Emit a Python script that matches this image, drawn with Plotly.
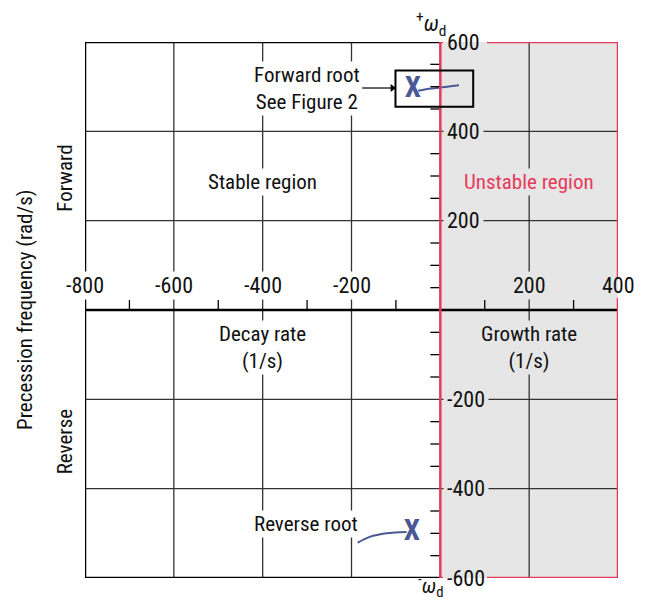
import plotly.graph_objects as go

# ---- data ----
x_tick_labels = [-800, -600, -400, -200, 200, 400]
x_grid = [-600, -400, -200, 200]
x_minor = [-700, -500, -300, -100, 100, 300]
y_tick_labels = [600, 400, 200, -200, -400, -600]
y_grid = [-400, -200, 200, 400]
y_minor = [-550, -500, -450, -350, -300, -250, -150, -100, -50,
           50, 100, 150, 250, 300, 350, 450, 500, 550]

fwd_root_x = [-62]
fwd_root_y = [493]
rev_root_x = [-64]
rev_root_y = [-499]
fwd_curve_x = [-50, -20, 10, 42]
fwd_curve_y = [491, 496, 499, 503]
rev_curve_x = [-186, -159, -121, -76]
rev_curve_y = [-521, -508, -500, -497]

x_range = [-800, 400]
y_range = [-600, 600]

FONT = "Liberation Sans Narrow, Roboto Condensed, Arial Narrow, Roboto, sans-serif"
RED = "#e63a5c"
GRAY = "#e6e6e6"
BLUE = "#4a5996"
GRID = "#333333"
TS = 21  # text size
KS = 22  # tick label size

fig = go.Figure()

fig.add_trace(go.Scatter(x=fwd_curve_x, y=fwd_curve_y, mode="lines",
                         line=dict(color=BLUE, width=2, shape="spline"),
                         cliponaxis=False, hoverinfo="skip"))
fig.add_trace(go.Scatter(x=rev_curve_x, y=rev_curve_y, mode="lines",
                         line=dict(color=BLUE, width=2, shape="spline"),
                         cliponaxis=False, hoverinfo="skip"))
fig.add_trace(go.Scatter(x=fwd_root_x + rev_root_x, y=fwd_root_y + rev_root_y,
                         mode="text", text=["<b>X</b>", "<b>X</b>"],
                         textfont=dict(family=FONT, size=29, color=BLUE),
                         cliponaxis=False, hoverinfo="skip"))
# arrowhead pointing at the forward-root box
fig.add_trace(go.Scatter(x=[-108], y=[497], mode="markers",
                         marker=dict(symbol="triangle-right", size=7, color="black"),
                         cliponaxis=False, hoverinfo="skip"))

shapes = []
# unstable region fill
shapes.append(dict(type="rect", xref="x", yref="y", x0=0, x1=x_range[1],
                   y0=y_range[0], y1=y_range[1], fillcolor=GRAY,
                   line=dict(width=0), layer="below"))
# grid lines
for v in x_grid:
    shapes.append(dict(type="line", xref="x", yref="y", x0=v, x1=v, y0=y_range[0], y1=y_range[1],
                       line=dict(color=GRID, width=1.3), layer="below"))
for v in y_grid:
    shapes.append(dict(type="line", xref="x", yref="y", x0=x_range[0], x1=x_range[1], y0=v, y1=v,
                       line=dict(color=GRID, width=1.3), layer="below"))
# minor ticks: above the decay/growth axis, left of the frequency axis
for v in x_minor:
    shapes.append(dict(type="line", xref="x", yref="y", x0=v, x1=v,
                       ysizemode="pixel", yanchor=0, y0=0, y1=10,
                       line=dict(color="black", width=1.3)))
for v in y_minor:
    shapes.append(dict(type="line", xref="x", yref="y", y0=v, y1=v,
                       xsizemode="pixel", xanchor=0, x0=-10, x1=0,
                       line=dict(color="black", width=1.3)))
# decay/growth axis line
shapes.append(dict(type="line", xref="x", yref="y", x0=x_range[0], x1=x_range[1], y0=0, y1=0,
                   line=dict(color="black", width=2.5)))
# black borders of stable region
for (xa, ya, xb, yb) in [(x_range[0], y_range[1], 0, y_range[1]),
                         (x_range[0], y_range[0], 0, y_range[0]),
                         (x_range[0], y_range[0], x_range[0], y_range[1])]:
    shapes.append(dict(type="line", xref="x", yref="y", x0=xa, y0=ya, x1=xb, y1=yb,
                       line=dict(color="black", width=2.5)))
# red borders of unstable region (broken behind the 600 / -600 / 400 labels)
gap = (6, 105)
rgap = (27, 74)
for (xa, ya, xb, yb) in [(0, y_range[0], 0, y_range[1]),
                         (0, y_range[1], gap[0], y_range[1]),
                         (gap[1], y_range[1], x_range[1], y_range[1]),
                         (0, y_range[0], gap[0], y_range[0]),
                         (gap[1], y_range[0], x_range[1], y_range[0]),
                         (x_range[1], y_range[0], x_range[1], rgap[0]),
                         (x_range[1], rgap[1], x_range[1], y_range[1])]:
    shapes.append(dict(type="line", xref="x", yref="y", x0=xa, y0=ya, x1=xb, y1=yb,
                       line=dict(color=RED, width=2.5)))
# forward root box
shapes.append(dict(type="rect", xref="x", yref="y", x0=-101, x1=74, y0=455, y1=536,
                   line=dict(color="black", width=2)))
# arrow shaft
shapes.append(dict(type="line", xref="x", yref="y", x0=-176, x1=-110, y0=497, y1=497,
                   line=dict(color="black", width=1.2)))

ann = []
# x tick labels
for v in x_tick_labels:
    bg = "white" if v < 0 else (GRAY if v < x_range[1] else "rgba(0,0,0,0)")
    ann.append(dict(x=v, y=54, xref="x", yref="y", text=str(v), showarrow=False,
                    font=dict(family=FONT, size=KS, color="#111"),
                    bgcolor=bg, borderpad=1))
# y tick labels
for v in y_tick_labels:
    ann.append(dict(x=0, y=v, xref="x", yref="y", text=str(v), showarrow=False,
                    xanchor="left", xshift=3,
                    font=dict(family=FONT, size=KS, color="#111"),
                    bgcolor=(GRAY if abs(v) < 600 else "rgba(0,0,0,0)"), borderpad=3))

def txt(x, y, t, color="#111", bg="white", size=TS, **kw):
    d = dict(x=x, y=y, xref="x", yref="y", text=t, showarrow=False,
             font=dict(family=FONT, size=size, color=color), bgcolor=bg, borderpad=1)
    d.update(kw)
    ann.append(d)

txt(-301, 497, "Forward root<br>See Figure 2")
txt(-400, 286, "Stable region")
txt(200, 287, "Unstable region", color=RED, bg=GRAY)
txt(-400, -83, "Decay rate<br>(1/s)")
txt(200, -83, "Growth rate<br>(1/s)", bg=GRAY)
txt(-302, -479, "Reverse root")

# omega_d labels just outside the plot, top and bottom
ann.append(dict(x=-22, y=1, xref="x", yref="paper", yshift=36,
                text="<sup>+</sup><i>ω</i><sub>d</sub>",
                showarrow=False, font=dict(family=FONT, size=22, color="#111")))
ann.append(dict(x=-22, y=0, xref="x", yref="paper", yshift=-25,
                text="<sup>-</sup><i>ω</i><sub>d</sub>",
                showarrow=False, font=dict(family=FONT, size=21, color="#111")))

# side labels
ann.append(dict(x=0, y=294, xref="paper", yref="y", xshift=-20, xanchor="center",
                yanchor="middle", text="Forward",
                textangle=-90, showarrow=False, font=dict(family=FONT, size=TS, color="#111")))
ann.append(dict(x=0, y=-294, xref="paper", yref="y", xshift=-20, xanchor="center",
                yanchor="middle", text="Reverse",
                textangle=-90, showarrow=False, font=dict(family=FONT, size=TS, color="#111")))
ann.append(dict(x=0, y=0, xref="paper", yref="y", xshift=-60, xanchor="center",
                yanchor="middle", text="Precession frequency (rad/s)",
                textangle=-90, showarrow=False, font=dict(family=FONT, size=TS, color="#111")))

fig.update_layout(
    width=646, height=604,
    margin=dict(l=85, r=28, t=42, b=26),
    plot_bgcolor="white", paper_bgcolor="white",
    showlegend=False,
    shapes=shapes, annotations=ann,
    xaxis=dict(range=x_range, visible=False),
    yaxis=dict(range=y_range, visible=False),
)

fig.write_html("out.html", config={"displayModeBar": False},
               post_script="document.body.style.margin='0px';")
